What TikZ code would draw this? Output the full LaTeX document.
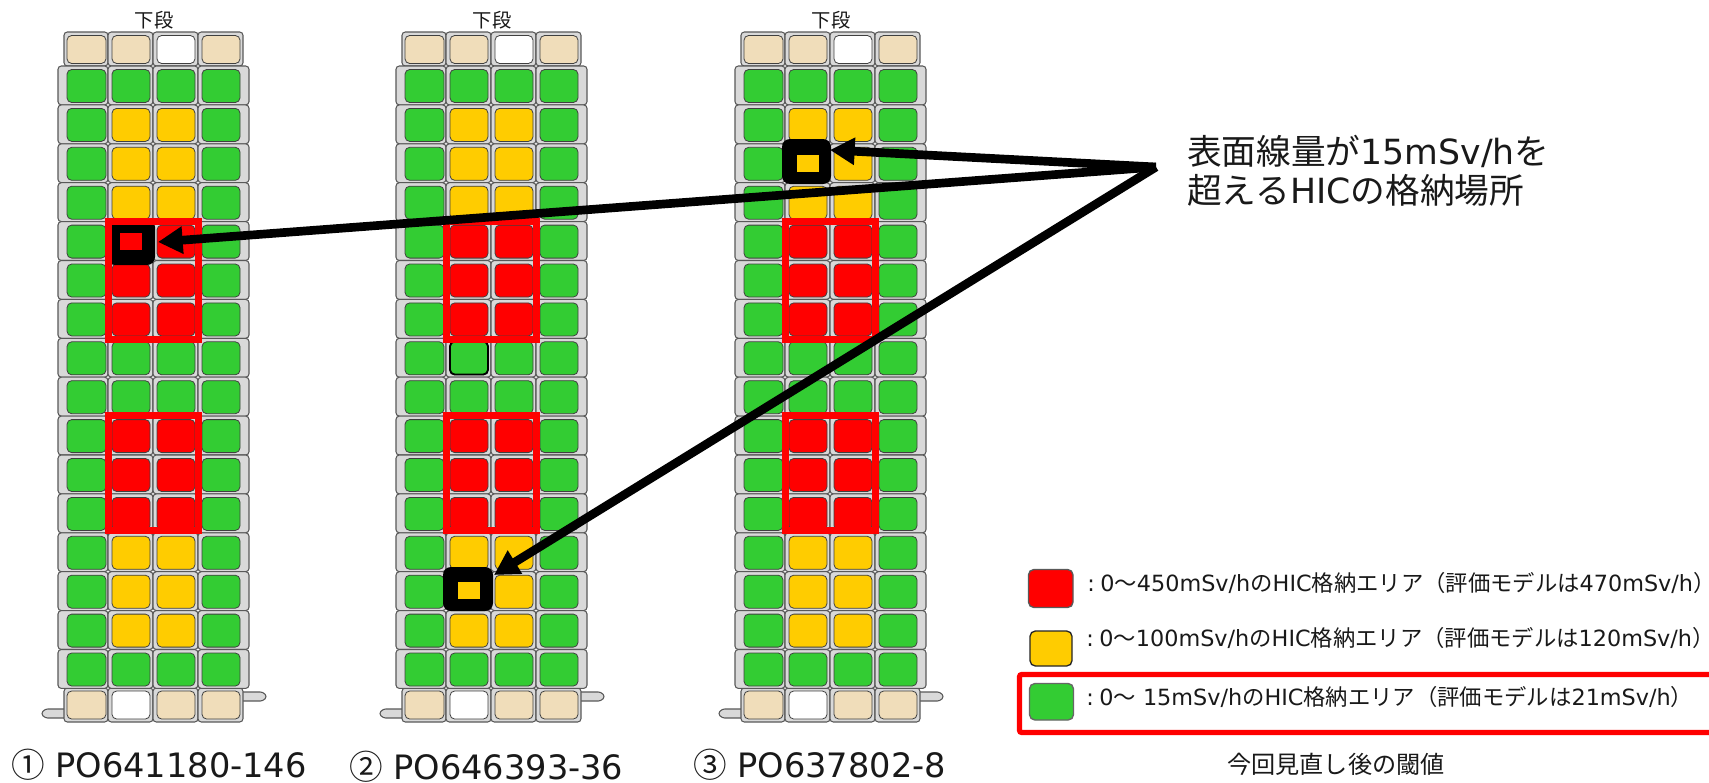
\documentclass[tikz,border=0pt]{standalone}
\usepackage{fontspec}
\setmainfont{DejaVu Sans}
\newfontfamily\cjk{Noto Sans CJK JP}
\newcommand\JP[1]{{\cjk #1}}
\usetikzlibrary{arrows.meta}
\definecolor{cG}{HTML}{33CC33}
\definecolor{cY}{HTML}{FFCC00}
\definecolor{cR}{HTML}{FF0000}
\definecolor{cB}{HTML}{F0DDBA}
\definecolor{cW}{HTML}{FFFFFF}
\definecolor{cGrey}{HTML}{D9D9D9}
\tikzset{
  outercell/.style={draw=black!65,fill=cGrey,line width=.8pt,rounded corners=2.5pt},
  tabshape/.style={draw=black!65,fill=cGrey,line width=.8pt,rounded corners=2pt},
  incell/.style={draw=black!75,line width=.6pt,rounded corners=3.5pt},
  frame/.style={draw=cR,line width=5.4pt,line join=miter},
  ring/.style={fill=black,rounded corners=6pt},
  pointer/.style={draw=black,line width=6.5pt,-{Triangle[length=18.5pt,width=19.5pt]}},
  lbl/.style={anchor=west,inner sep=0pt,text=black!90},
  swatch/.style={line width=1pt,rounded corners=4pt},
}
\newcommand\Rack[1]{%
\begin{scope}[shift={(#1,0)}]
  \node[inner sep=0pt,text=black!90,font=\fontsize{14.5}{16}\selectfont] (head#1) at (154,20) {\JP{下段}};
  % tabs
  \path[tabshape] (70,709) -- (45,709) -- (41,713.5) -- (45,718) -- (70,718) -- cycle;
  \path[tabshape] (238,692) -- (263,692) -- (267,696.5) -- (263,701) -- (238,701) -- cycle;
  % top row
  \foreach \xa/\xb/\ia/\ib/\c in {64/108/67/106/cB,108/153/112/150/cB,153/198/157/195/cW,198/243/202/240/cB}{
    \path[outercell] (\xa,32) rectangle (\xb,66);
    \path[incell,fill=\c] (\ia,35.5) rectangle (\ib,63.5);
  }
  % bottom row
  \foreach \xa/\xb/\ia/\ib/\c in {64/108/67/106/cB,108/153/112/150/cW,153/198/157/195/cB,198/243/202/240/cB}{
    \path[outercell] (\xa,688) rectangle (\xb,722);
    \path[incell,fill=\c] (\ia,691) rectangle (\ib,719);
  }
  % main rows
  \foreach \r/\c in {0/cG,1/cY,2/cY,3/cY,4/cR,5/cR,6/cR,7/cG,8/cG,9/cR,10/cR,11/cR,12/cY,13/cY,14/cY,15/cG}{
    \foreach \xa/\xb/\ia/\ib/\k in {58/108/67/106/cG,108/153/112/150/\c,153/198/157/195/\c,198/249/202/240/cG}{
      \path[outercell] (\xa,{66+38.9*\r}) rectangle (\xb,{66+38.9*(\r+1)});
      \path[incell,fill=\k] (\ia,{69.5+38.9*\r}) rectangle (\ib,{102.5+38.9*\r});
    }
  }
\end{scope}}
\begin{document}
\begin{tikzpicture}[x=.75pt,y=-.75pt]
\fill[white] (0,0) rectangle (1709,782);
\useasboundingbox (0,0) rectangle (1709,782);
\Rack{0}
\Rack{338}
\Rack{677}
% emphasised cell in the second rack
\draw[black,line width=1.4pt,rounded corners=3.5pt] (450,341.5) rectangle (488,374.5);
% marked cells
\path[ring] (107,219) rectangle (155,265);
\fill[cR] (120,233) rectangle (142,250);
\path[ring] (443,567) rectangle (493,611);
\fill[cY] (458,582) rectangle (480,599);
\path[ring] (782,139) rectangle (831,184);
\fill[cY] (797,155) rectangle (819,172);
% red frames
\foreach \d in {0,338,677}{
  \draw[frame] (108.6+\d,221.6) rectangle (198.4+\d,339.4);
  \draw[frame] (108.6+\d,415.6) rectangle (198.4+\d,530.4);
}
% pointers
\coordinate (apex) at (1156,167);
\coordinate (tipA) at (158,242);
\coordinate (tipB) at (494,575);
\coordinate (tipC) at (830,150);
\draw[pointer] (apex) -- (tipA);
\draw[pointer] (apex) -- (tipB);
\draw[pointer] (apex) -- (tipC);
% callout
\node[lbl,font=\fontsize{26}{30}\selectfont] (call1) at (1187,151) {\JP{表面線量が}15mSv/h\JP{を}};
\node[lbl,font=\fontsize{26}{30}\selectfont] (call2) at (1187,190) {\JP{超える}HIC\JP{の格納場所}};
% rack captions
\node[lbl,font=\fontsize{25.2}{30}\selectfont] (capA) at (11,765) {\JP{①} PO641180-146};
\node[lbl,font=\fontsize{25.2}{30}\selectfont] (capB) at (349,767) {\JP{②} PO646393-36};
\node[lbl,font=\fontsize{25.2}{30}\selectfont] (capC) at (693,765) {\JP{③} PO637802-8};
% legend
\path[swatch,fill=cR,draw=black!65] (1028.5,569.5) rectangle (1073,607.5);
\path[swatch,fill=cY,draw=black!85] (1030,631) rectangle (1072,666);
\path[swatch,fill=cG,draw=black!60] (1029.5,683.5) rectangle (1073.5,720);
\node[lbl,font=\fontsize{16.75}{20}\selectfont] (legR) at (1087,583) {:\hspace{.25em}0\JP{～}450mSv/h\JP{の}HIC\JP{格納エリア（評価モデルは}470mSv/h\JP{）}};
\node[lbl,font=\fontsize{16.75}{20}\selectfont] (legY) at (1086,638) {:\hspace{.25em}0\JP{～}100mSv/h\JP{の}HIC\JP{格納エリア（評価モデルは}120mSv/h\JP{）}};
\node[lbl,font=\fontsize{16.75}{20}\selectfont] (legG) at (1086,697) {:\hspace{.25em}0\JP{～} 15mSv/h\JP{の}HIC\JP{格納エリア（評価モデルは}21mSv/h\JP{）}};
\draw[cR,line width=3.8pt,rounded corners=1.5pt] (1709,674.5) -- (1019.5,674.5) -- (1019.5,732.5) -- (1709,732.5);
\node[inner sep=0pt,text=black!90,font=\fontsize{18.1}{20}\selectfont] (legT) at (1336,764) {\JP{今回見直し後の閾値}};
\end{tikzpicture}
\end{document}
